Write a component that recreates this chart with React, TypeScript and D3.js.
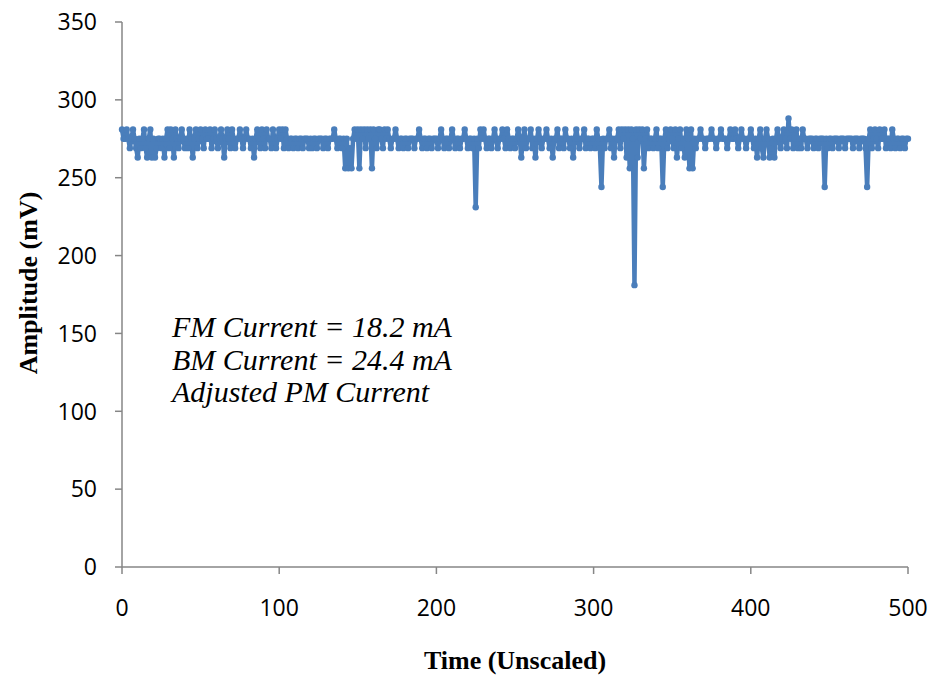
import React from "react";
import * as d3 from "d3";

const seg0 = [281,275,275,281,275,269,275,281,275,269,263,275,269,275,281,269,263,275,281,263,275,263,269,275,275,269,275,263,275,281,269,281,275,263,281,275,269,275,281,275,269,275,269,281,275,263,275,281,269,275];
const seg1 = [281,275,269,281,275,275,281,269,275,281,275,269,275,281,275,263,275,281,275,269,281,275,269,275,275,281,275,269,275,281,275,275,269,275,263,275,281,275,269,281,275,269,281,275,275,269,281,275,269,275];
const seg2 = [281,275,281,269,281,275,269,275,275,269,275,275,269,275,275,269,275,275,275,269,275,269,275,275,269,275,275,275,269,275,275,269,275,275,275,281,275,269,275,275,269,275,256,275,256,269,256,275,281,275];
const seg3 = [281,256,281,275,281,269,281,275,281,256,281,275,269,281,281,275,269,281,275,281,275,269,275,275,281,275,269,275,275,269,275,275,269,275,275,275,269,275,275,281,275,269,275,275,269,275,275,269,275,275];
const seg4 = [275,269,275,281,275,269,275,275,269,275,281,275,269,275,275,269,275,275,281,275,269,275,275,269,275,231,275,269,281,275,281,275,269,275,275,269,275,281,275,269,275,275,281,275,269,281,275,269,275,275];
const seg5 = [269,275,281,275,263,275,281,269,275,275,281,269,275,263,275,281,275,269,275,275,281,275,269,275,263,275,275,281,269,275,275,269,281,275,275,269,275,263,275,281,275,269,275,275,281,269,275,275,269,275];
const seg6 = [275,269,281,275,269,244,275,269,275,275,281,269,275,263,275,275,281,269,281,275,281,263,281,256,281,275,181,281,263,281,275,281,256,275,281,269,275,275,269,275,281,269,275,275,244,275,281,269,275,281];
const seg7 = [275,269,281,263,275,281,269,275,263,281,275,256,281,256,275,269,275,275,281,275,275,269,275,275,275,281,275,275,269,275,275,281,275,275,275,269,275,281,275,275,281,275,269,275,281,275,275,269,275,275];
const seg8 = [281,275,269,275,263,275,281,269,263,275,281,275,263,269,275,263,275,281,275,269,275,281,275,269,288,275,281,269,275,281,269,275,269,281,275,275,269,275,275,275,269,275,275,269,275,275,275,244,275,269];
const seg9 = [275,275,269,275,275,275,269,275,275,275,269,275,275,275,275,269,275,275,275,269,275,275,275,269,244,275,281,269,275,281,275,269,281,275,275,281,269,275,275,269,281,275,269,275,275,269,275,275,269,275,275];

const amplitude: number[] = [...seg0, ...seg1, ...seg2, ...seg3, ...seg4, ...seg5, ...seg6, ...seg7, ...seg8, ...seg9];

const xTicks = [0, 100, 200, 300, 400, 500];
const yTicks = [0, 50, 100, 150, 200, 250, 300, 350];
const notes = ["FM Current = 18.2 mA", "BM Current = 24.4 mA", "Adjusted PM Current"];

export default function App() {
  const W = 932, H = 675;
  const left = 122, right = 908, top = 22, bottom = 567;
  const x = d3.scaleLinear().domain([0, 500]).range([left, right]);
  const y = d3.scaleLinear().domain([0, 350]).range([bottom, top]);
  const line = d3.line<number>().x((_, i) => x(i)).y((d) => y(d));
  const blue = "#4A7EBB";
  const axisColor = "#868686";
  const tickFont = "'Open Sans', sans-serif";
  const serif = "'Liberation Serif', 'Times New Roman', serif";
  return (
    <svg width={W} height={H} style={{ position: "absolute", left: 0, top: 0, background: "#fff" }}>
      <line x1={left} x2={left} y1={top} y2={bottom} stroke={axisColor} strokeWidth={1.5} />
      <line x1={left} x2={right} y1={bottom} y2={bottom} stroke={axisColor} strokeWidth={1.5} />
      {yTicks.map((t) => (
        <g key={"y" + t}>
          <line x1={left - 7} x2={left} y1={y(t)} y2={y(t)} stroke={axisColor} strokeWidth={1.5} />
          <text x={97} y={y(t)} dy="0.36em" textAnchor="end" fontFamily={tickFont} fontSize={23} fill="#000">{t}</text>
        </g>
      ))}
      {xTicks.map((t) => (
        <g key={"x" + t}>
          <line x1={x(t)} x2={x(t)} y1={bottom} y2={bottom + 7} stroke={axisColor} strokeWidth={1.5} />
          <text x={x(t)} y={608} dy="0.36em" textAnchor="middle" fontFamily={tickFont} fontSize={23} fill="#000">{t}</text>
        </g>
      ))}
      <path d={line(amplitude) || ""} fill="none" stroke={blue} strokeWidth={4.5} strokeLinejoin="round" />
      {amplitude.map((v, i) => (
        <circle key={i} cx={x(i)} cy={y(v)} r={3.2} fill={blue} />
      ))}
      {notes.map((n, i) => (
        <text key={n} x={172} y={337 + i * 32.5} fontFamily={serif} fontStyle="italic" fontSize={30} fill="#000">{n}</text>
      ))}
      <text x={515} y={669} textAnchor="middle" fontFamily={serif} fontWeight="bold" fontSize={26} fill="#000">Time (Unscaled)</text>
      <text transform={`translate(37,283) rotate(-90)`} textAnchor="middle" fontFamily={serif} fontWeight="bold" fontSize={26} fill="#000">Amplitude (mV)</text>
    </svg>
  );
}
